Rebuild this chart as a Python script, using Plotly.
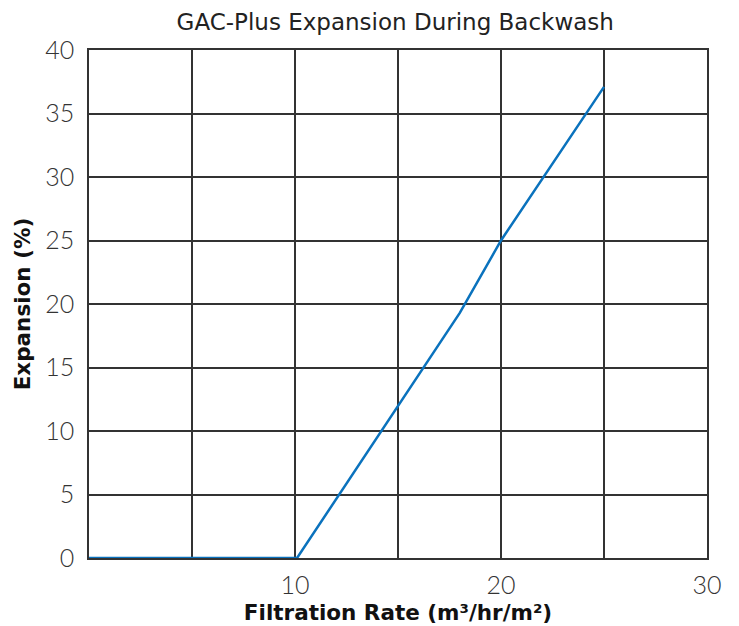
import plotly.graph_objects as go

filtration_rate = [0, 10.1, 18.0, 20.0, 25.0]
expansion_pct = [0, 0, 19.3, 25.0, 37.1]

x_tick_vals = [0, 5, 10, 15, 20, 25, 30]
x_tick_text = ["", "", "10", "", "20", "", "30"]
y_tick_vals = [0, 5, 10, 15, 20, 25, 30, 35, 40]

fig = go.Figure()
fig.add_trace(go.Scatter(
    x=filtration_rate, y=expansion_pct, mode="lines",
    line=dict(color="#0a72bd", width=2.5), showlegend=False,
))

fig.update_layout(
    width=739, height=626,
    margin=dict(l=81, r=40, t=42, b=76),
    paper_bgcolor="white", plot_bgcolor="white",
    font=dict(family="Lato", color="#222"),
    title=dict(text="GAC-Plus Expansion During Backwash", x=0.524, xanchor="center",
               y=0.978, yanchor="middle",
               font=dict(family="DejaVu Sans", size=23, color="#222")),
)
fig.update_xaxes(
    range=[0, 30], tickvals=x_tick_vals, ticktext=x_tick_text,
    showgrid=True, gridcolor="#333", gridwidth=1.5,
    showline=True, linecolor="#333", linewidth=1.5, mirror=True,
    zeroline=False, ticks="", ticklabelstandoff=4, automargin=False,
    tickfont=dict(family="Lato", weight=300, size=25, color="#333"),
    title=dict(text="<b>Filtration Rate (m³/hr/m²)</b>",
               font=dict(family="DejaVu Sans", size=21.5, color="#111"), standoff=7),
)
fig.update_yaxes(
    range=[0, 40], tickvals=y_tick_vals,
    showgrid=True, gridcolor="#333", gridwidth=1.5,
    showline=True, linecolor="#333", linewidth=1.5, mirror=True,
    zeroline=False, ticks="", ticklabelstandoff=8, automargin=False,
    tickfont=dict(family="Lato", weight=300, size=25, color="#333"),
    title=dict(text="<b>Expansion (%)</b>",
               font=dict(family="DejaVu Sans", size=21.5, color="#111"), standoff=9),
)

fig.write_html("out.html")
